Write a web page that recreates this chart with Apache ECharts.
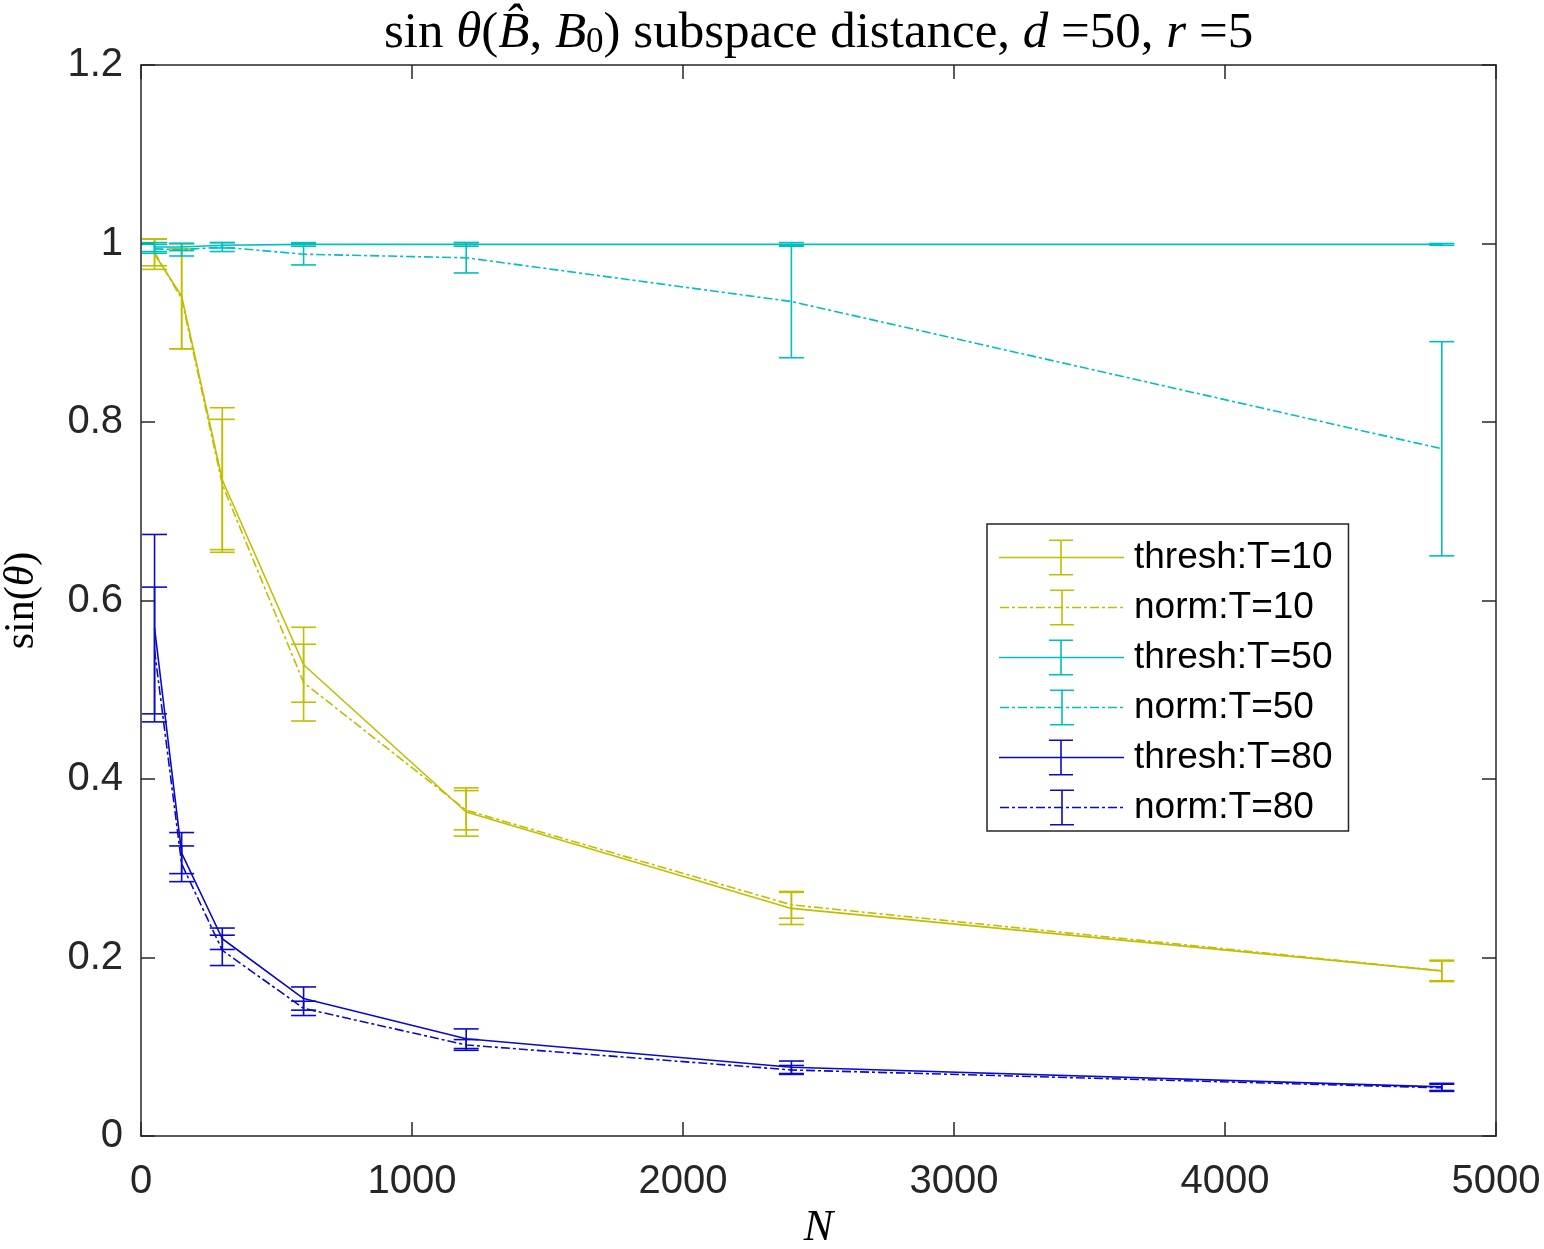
<!DOCTYPE html>
<html>
<head>
<meta charset="utf-8">
<script src="https://cdn.jsdelivr.net/npm/echarts@6/dist/echarts.min.js"></script>
<style>
html,body{margin:0;padding:0;background:#fff;}
#chart{width:1544px;height:1249px;}
</style>
</head>
<body>
<div id="chart"></div>
<script>
// ---- data ----
const sampleSizes = [50, 150, 300, 600, 1200, 2400, 4800];

const threshT10 = [0.988, 0.941, 0.735, 0.528, 0.363, 0.255, 0.185];
const threshT10Err = [0.017, 0.059, 0.081, 0.042, 0.027, 0.018, 0.012];
const normT10 = [0.990, 0.938, 0.730, 0.508, 0.365, 0.259, 0.185];
const normT10Err = [0.015, 0.056, 0.073, 0.043, 0.022, 0.015, 0.011];

const threshT50 = [0.996, 0.996, 0.998, 0.999, 0.999, 0.999, 0.999];
const threshT50Err = [0.005, 0.004, 0.003, 0.002, 0.002, 0.002, 0.001];
const normT50 = [0.994, 0.993, 0.996, 0.988, 0.984, 0.935, 0.770];
const normT50Err = [0.005, 0.007, 0.005, 0.012, 0.017, 0.063, 0.120];

const threshT80 = [0.569, 0.317, 0.221, 0.154, 0.109, 0.077, 0.055];
const threshT80Err = [0.105, 0.023, 0.012, 0.013, 0.011, 0.007, 0.004];
const normT80 = [0.544, 0.305, 0.208, 0.143, 0.102, 0.074, 0.054];
const normT80Err = [0.071, 0.020, 0.017, 0.008, 0.006, 0.005, 0.004];

const seriesNames = ['thresh:T=10', 'norm:T=10', 'thresh:T=50', 'norm:T=50', 'thresh:T=80', 'norm:T=80'];
const xTicks = [0, 1000, 2000, 3000, 4000, 5000];
const yTicks = [0, 0.2, 0.4, 0.6, 0.8, 1, 1.2];

// ---- styling ----
const YEL = '#BFBF00', CYA = '#00BFBF', BLU = '#0A0ACC';
const AX = '#262626';
const LW = 1.6;
const DASHDOT = [9, 3, 3, 3];

const seriesDefs = [
  {name: seriesNames[0], v: threshT10, e: threshT10Err, color: YEL, dash: false},
  {name: seriesNames[1], v: normT10, e: normT10Err, color: YEL, dash: true},
  {name: seriesNames[2], v: threshT50, e: threshT50Err, color: CYA, dash: false},
  {name: seriesNames[3], v: normT50, e: normT50Err, color: CYA, dash: true},
  {name: seriesNames[4], v: threshT80, e: threshT80Err, color: BLU, dash: false},
  {name: seriesNames[5], v: normT80, e: normT80Err, color: BLU, dash: true}
];

function rect(x, y, w, h) {
  return 'M' + x + ',' + y + 'h' + w + 'v' + h + 'h' + (-w) + 'Z';
}
function legendIconPath(dash) {
  const W = 125, H = 36, cx = 62, th = 1.6;
  let p = '';
  if (!dash) {
    p += rect(0, H / 2 - th / 2, W, th);
  } else {
    const pat = [9, 3, 3, 3];
    let x = 0, k = 0;
    while (x < W) {
      const len = Math.min(pat[k % 4], W - x);
      if (k % 2 === 0) p += rect(x, H / 2 - th / 2, len, th);
      x += pat[k % 4];
      k++;
    }
  }
  p += rect(cx - th / 2, 0, th, H);
  p += rect(cx - 12, 0, 24, th);
  p += rect(cx - 12, H - th, 24, th);
  return 'path://' + p;
}

function errRender(params, api) {
  const x = api.value(0), lo = api.value(1), hi = api.value(2);
  const pLo = api.coord([x, lo]);
  const pHi = api.coord([x, hi]);
  const hw = 12.5;
  const style = {stroke: api.visual('color'), lineWidth: LW, fill: null};
  return {
    type: 'group',
    children: [
      {type: 'line', shape: {x1: pLo[0], y1: pLo[1], x2: pHi[0], y2: pHi[1]}, style: style},
      {type: 'line', shape: {x1: pLo[0] - hw, y1: pLo[1], x2: pLo[0] + hw, y2: pLo[1]}, style: style},
      {type: 'line', shape: {x1: pHi[0] - hw, y1: pHi[1], x2: pHi[0] + hw, y2: pHi[1]}, style: style}
    ]
  };
}

const series = [];
seriesDefs.forEach(function (d, idx) {
  series.push({
    name: d.name,
    type: 'line',
    symbol: 'none',
    z: 2 + idx,
    color: d.color,
    lineStyle: {color: d.color, width: LW, type: d.dash ? DASHDOT : 'solid'},
    data: sampleSizes.map(function (n, i) { return [n, d.v[i]]; })
  });
  series.push({
    name: d.name,
    type: 'custom',
    z: 2 + idx,
    itemStyle: {color: d.color},
    renderItem: errRender,
    encode: {x: 0, y: [1, 2]},
    data: sampleSizes.map(function (n, i) { return [n, d.v[i] - d.e[i], d.v[i] + d.e[i]]; })
  });
});

const serif = 'Liberation Serif';
const sans = 'Liberation Sans';

function axisCommon() {
  return {
    axisLine: {show: true, onZero: false, lineStyle: {color: AX, width: 1.5}},
    axisTick: {show: true, inside: true, length: 14, lineStyle: {color: AX, width: 1.5}},
    splitLine: {show: false}
  };
}

const chart = echarts.init(document.getElementById('chart'), null, {renderer: 'canvas'});
chart.setOption({
  animation: false,
  backgroundColor: '#ffffff',
  title: {
    left: 384,
    top: 1,
    padding: [4, 0, 0, 0],
    text: '{r|sin }{i|θ}{r|(}{i|B\u0302}{r|, }{i|B}{sub|0}{r|) subspace distance, }{i|d}{r| =50, }{i|r}{r| =5}',
    textStyle: {
      fontWeight: 'normal',
      rich: {
        r: {fontFamily: serif, fontSize: 51, fontWeight: 'normal', color: '#000', lineHeight: 58},
        i: {fontFamily: serif, fontSize: 51, fontWeight: 'normal', fontStyle: 'italic', color: '#000', lineHeight: 58},
        sub: {fontFamily: serif, fontSize: 35, fontWeight: 'normal', color: '#000', lineHeight: 58, verticalAlign: 'bottom', padding: [0, 0, 3, 0]}
      }
    }
  },
  legend: {
    orient: 'vertical',
    left: 987,
    top: 524,
    padding: [15, 16, 5, 12],
    itemGap: 13,
    itemWidth: 125,
    itemHeight: 36,
    borderColor: AX,
    borderWidth: 1.5,
    backgroundColor: '#ffffff',
    selectedMode: false,
    textStyle: {fontFamily: sans, fontSize: 37, color: '#000', lineHeight: 36, padding: [0, 0, 0, 5]},
    data: seriesDefs.map(function (d) {
      return {name: d.name, icon: legendIconPath(d.dash), itemStyle: {color: d.color, borderWidth: 0}};
    })
  },
  grid: {left: 141, right: 48, top: 65, bottom: 113, containLabel: false, outerBoundsMode: 'none'},
  xAxis: [
    Object.assign({
      type: 'value', position: 'bottom', min: xTicks[0], max: xTicks[xTicks.length - 1], interval: 1000,
      name: 'N', nameLocation: 'middle', nameGap: 66,
      nameTextStyle: {fontFamily: serif, fontStyle: 'italic', fontSize: 44, color: '#000'},
      axisLabel: {fontFamily: sans, fontSize: 40, color: AX, margin: 26, formatter: function (v) { return String(v); }}
    }, axisCommon()),
    Object.assign({
      type: 'value', position: 'top', min: xTicks[0], max: xTicks[xTicks.length - 1], interval: 1000,
      axisLabel: {show: false}
    }, axisCommon())
  ],
  yAxis: [
    Object.assign({
      type: 'value', position: 'left', min: yTicks[0], max: yTicks[yTicks.length - 1], interval: 0.2,
      name: '{r|sin(}{i|θ}{r|)}', nameLocation: 'middle', nameGap: 98, nameRotate: 90,
      nameTextStyle: {
        rich: {
          r: {fontFamily: serif, fontSize: 42, color: '#000'},
          i: {fontFamily: serif, fontSize: 42, fontStyle: 'italic', color: '#000'}
        }
      },
      axisLabel: {fontFamily: sans, fontSize: 40, color: AX, margin: 18}
    }, axisCommon()),
    Object.assign({
      type: 'value', position: 'right', min: yTicks[0], max: yTicks[yTicks.length - 1], interval: 0.2,
      axisLabel: {show: false}
    }, axisCommon())
  ],
  series: series
});
</script>
</body>
</html>
